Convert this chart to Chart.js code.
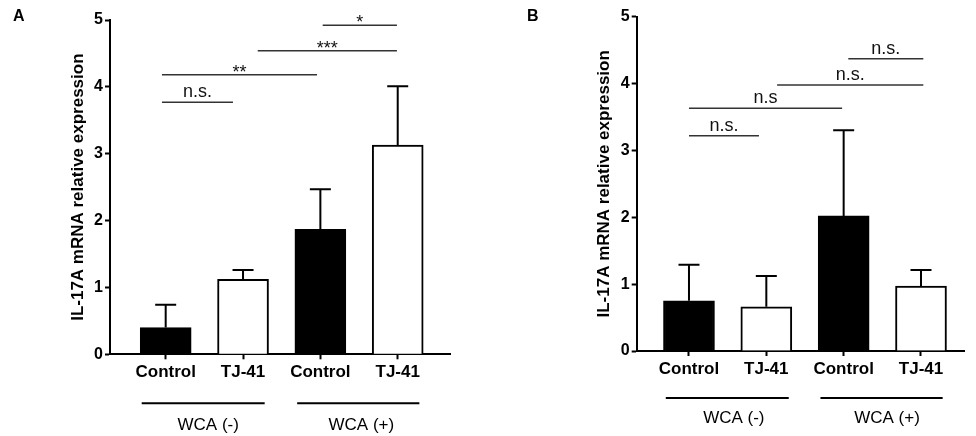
<!DOCTYPE html>
<html><head><meta charset="utf-8">
<script src="https://cdn.jsdelivr.net/npm/chart.js@4.4.1/dist/chart.umd.min.js"></script>
<style>
html,body{margin:0;padding:0;background:#fff;}
#wrap{position:relative;width:976px;height:436px;overflow:hidden;font-family:"Liberation Sans",Arial,sans-serif;}
.panel{position:absolute;top:0;width:488px;height:436px;}
.plab{position:absolute;font-weight:bold;font-size:16px;line-height:16px;color:#000;}
</style></head><body>
<div id="wrap">
  <div class="panel" style="left:0px"><canvas id="cA" width="488" height="436"></canvas></div>
  <div class="panel" style="left:488px"><canvas id="cB" width="488" height="436"></canvas></div>
  <div class="plab" style="left:13px;top:8px">A</div>
  <div class="plab" style="left:527px;top:8px">B</div>
</div>
<script>
// ---------- data ----------
const categories = ['Control', 'TJ-41', 'Control', 'TJ-41'];
const xPositions = [1, 2, 3, 4];
const yTicks = [0, 1, 2, 3, 4, 5];
const yTitle = 'IL-17A mRNA relative expression';
const groupLabels = ['WCA (-)', 'WCA (+)'];

const meanA = [0.40, 1.12, 1.87, 3.13];
const sdA   = [0.34, 0.14, 0.60, 0.88];
const meanB = [0.75, 0.66, 2.02, 0.97];
const sdB   = [0.54, 0.46, 1.28, 0.24];

// significance brackets: [x from, x to, y level, label]
const sigA = [[0.952, 1.87, 3.77, 'n.s.'], [0.952, 2.957, 4.18, '**'], [2.19, 3.99, 4.54, '***'], [3.03, 3.99, 4.92, '*']];
const sigB = [[1.0, 1.905, 3.22, 'n.s.'], [1.0, 2.98, 3.63, 'n.s'], [2.14, 4.03, 3.98, 'n.s.'], [3.06, 4.03, 4.37, 'n.s.']];

// group underlines (x span) and label centres, in category units
const groupSpansA = [[0.69, 2.28], [2.70, 4.28]];
const groupSpansB = [[0.70, 2.29], [2.70, 4.28]];
const groupCentresA = [1.55, 3.53];
const groupCentresB = [1.58, 3.56];

// ---------- drawing ----------
const FONT = '"Liberation Sans", Arial, sans-serif';

const annotPlugin = {
  id: 'annot',
  afterDatasetsDraw(chart, args, o) {
    const ctx = chart.ctx, x = chart.scales.x, y = chart.scales.y;
    ctx.save();
    // error bars
    ctx.strokeStyle = '#000';
    ctx.lineWidth = 2;
    o.means.forEach((m, i) => {
      const px = x.getPixelForValue(xPositions[i]);
      const yM = y.getPixelForValue(m);
      const yT = y.getPixelForValue(m + o.sds[i]);
      ctx.beginPath();
      ctx.moveTo(px, yM); ctx.lineTo(px, yT);
      ctx.moveTo(px - 10.5, yT); ctx.lineTo(px + 10.5, yT);
      ctx.stroke();
    });
    // significance brackets
    ctx.strokeStyle = '#333';
    ctx.lineWidth = 1.5;
    ctx.fillStyle = '#111';
    ctx.font = '18px ' + FONT;
    ctx.textAlign = 'center';
    ctx.textBaseline = 'alphabetic';
    o.sig.forEach(s => {
      const x1 = x.getPixelForValue(s[0]), x2 = x.getPixelForValue(s[1]);
      const py = y.getPixelForValue(s[2]);
      ctx.beginPath(); ctx.moveTo(x1, py); ctx.lineTo(x2, py); ctx.stroke();
      const isStar = s[3].indexOf('*') >= 0;
      ctx.fillText(s[3], (x1 + x2) / 2, isStar ? py + 3 : py - 5);
    });
    // group underlines and labels
    const base = chart.chartArea.bottom;
    ctx.strokeStyle = '#000';
    ctx.lineWidth = 2;
    ctx.fillStyle = '#000';
    ctx.font = '17px ' + FONT;
    ctx.textBaseline = 'middle';
    o.groups.forEach((g, i) => {
      const x1 = x.getPixelForValue(g[0]), x2 = x.getPixelForValue(g[1]);
      ctx.beginPath(); ctx.moveTo(x1, base + o.lineOff); ctx.lineTo(x2, base + o.lineOff); ctx.stroke();
      ctx.fillText(groupLabels[i], x.getPixelForValue(o.centres[i]), base + o.labelOff);
    });
    ctx.restore();
  }
};

function makeChart(id, means, sds, sig, groups, centres, L) {
  return new Chart(document.getElementById(id), {
    type: 'bar',
    data: {
      datasets: [{
        data: xPositions.map((v, i) => ({ x: v, y: means[i] })),
        backgroundColor: ['#000', '#fff', '#000', '#fff'],
        borderColor: '#000',
        borderWidth: 2,
        barThickness: 51
      }]
    },
    plugins: [annotPlugin],
    options: {
      responsive: false,
      animation: false,
      layout: { padding: { left: 0, right: L.right, top: L.top, bottom: 0 } },
      plugins: {
        legend: { display: false },
        tooltip: { enabled: false },
        annot: { means, sds, sig, groups, centres, lineOff: L.lineOff, labelOff: L.labelOff }
      },
      scales: {
        x: {
          type: 'linear',
          offset: false,
          bounds: 'data',
          min: L.xmin, max: L.xmax,
          afterBuildTicks: s => { s.ticks = xPositions.map(v => ({ value: v })); },
          afterFit: s => { s.height = L.xh; },
          ticks: {
            callback: v => { const k = xPositions.indexOf(v); return k >= 0 ? categories[k] : ''; },
            color: '#000',
            font: { family: FONT, size: 17, weight: 'bold' },
            padding: 3,
            maxRotation: 0,
            autoSkip: false
          },
          grid: { offset: false, drawOnChartArea: false, drawTicks: true, tickLength: 5, tickColor: '#000', tickWidth: 2 },
          border: { display: true, color: '#000', width: 2 }
        },
        y: {
          min: 0, max: 5,
          afterBuildTicks: s => { s.ticks = yTicks.map(v => ({ value: v })); },
          afterFit: s => { s.width = L.yw; },
          ticks: {
            color: '#000',
            font: { family: FONT, size: 16, weight: 'bold' },
            padding: 2
          },
          grid: { drawOnChartArea: false, drawTicks: true, tickLength: 5, tickColor: '#000', tickWidth: 2 },
          border: { display: true, color: '#000', width: 2 },
          title: {
            display: true,
            text: yTitle,
            color: '#000',
            font: { family: FONT, size: 17, weight: 'bold' },
            padding: { top: L.titlePad, bottom: 0 }
          }
        }
      }
    }
  });
}

makeChart('cA', meanA, sdA, sigA, groupSpansA, groupCentresA,
  { right: 38, top: 20, xh: 81.7, yw: 110, xmin: 0.28, xmax: 4.676, titlePad: 68, lineOff: 49, labelOff: 71 });
makeChart('cB', meanB, sdB, sigB, groupSpansB, groupCentresB,
  { right: 12, top: 16.7, xh: 85, yw: 148.7, xmin: 0.324, xmax: 4.556, titlePad: 106, lineOff: 47, labelOff: 67 });
</script>
</body></html>
